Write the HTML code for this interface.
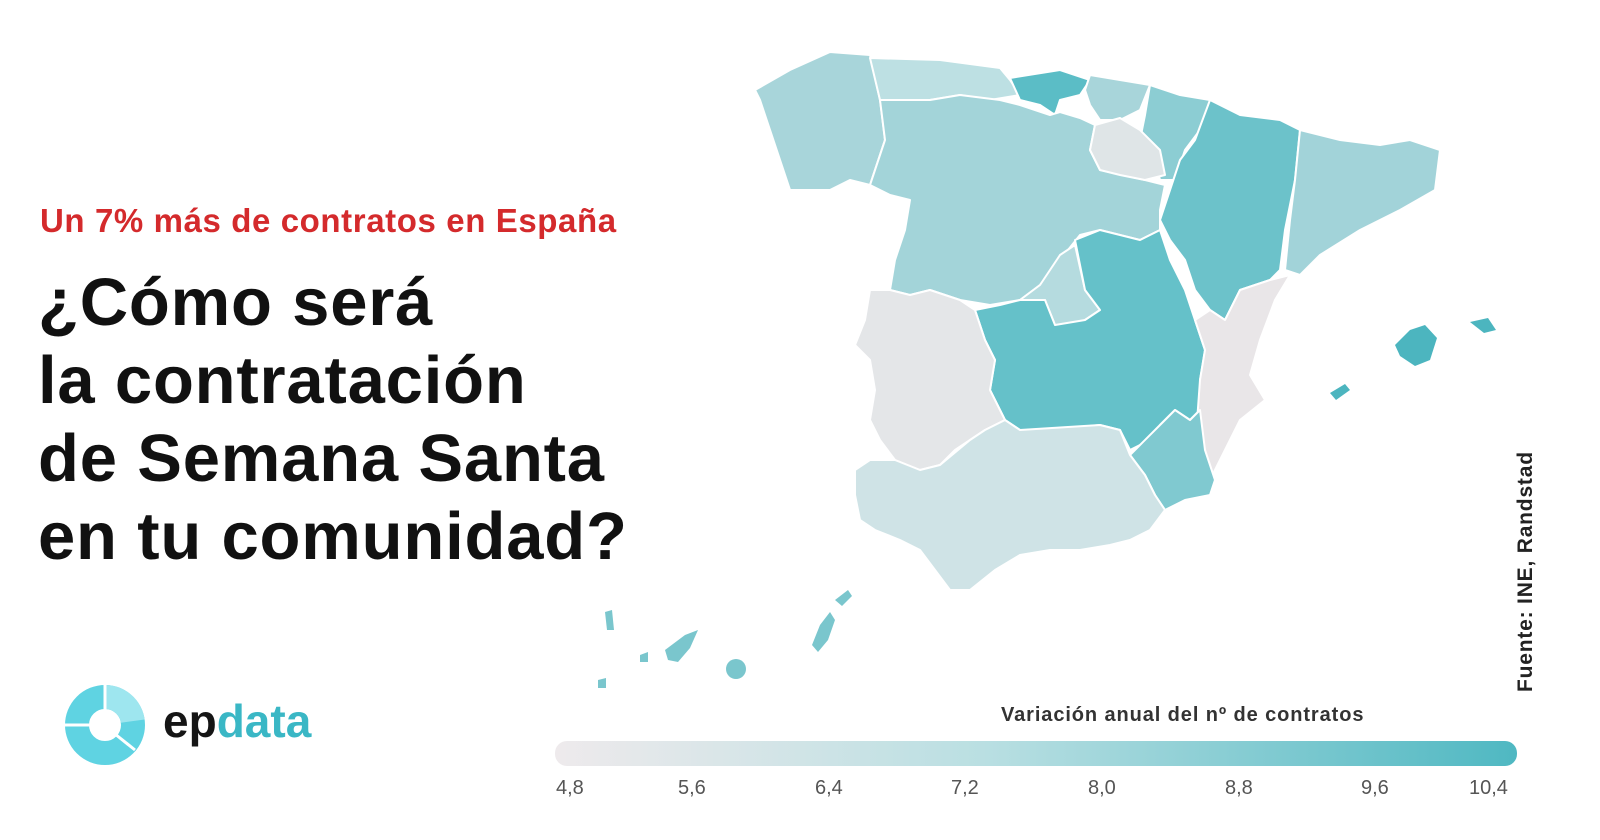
<!DOCTYPE html>
<html><head><meta charset="utf-8"><style>
html,body{margin:0;padding:0;background:#fff;}
body{width:1600px;height:840px;position:relative;overflow:hidden;font-family:"Liberation Sans",sans-serif;}
.sub{position:absolute;left:40px;top:202px;font-size:33px;font-weight:bold;color:#d42a2c;white-space:nowrap;letter-spacing:0.6px;}
.title{position:absolute;left:38px;top:264px;font-size:67px;font-weight:bold;color:#111;line-height:78px;white-space:nowrap;letter-spacing:0.8px;}
.src{position:absolute;left:1514px;top:692px;transform:rotate(-90deg);transform-origin:0 0;font-size:21px;font-weight:bold;color:#222;white-space:nowrap;letter-spacing:0.8px;}
.lt{position:absolute;left:1001px;top:704px;font-size:20px;font-weight:bold;color:#333;white-space:nowrap;letter-spacing:0.9px;}
.bar{position:absolute;left:555px;top:741px;width:962px;height:25px;border-radius:12px;background:linear-gradient(to right,#eeeaec,#b9dfe2 45%,#4fb8c2);}
.tk{position:absolute;top:777px;font-size:20px;color:#555;}
.logo{position:absolute;left:163px;top:694px;font-size:46px;font-weight:bold;letter-spacing:0px;}
</style></head><body>
<div class="sub">Un 7% más de contratos en España</div>
<div class="title">¿Cómo será<br>la contratación<br>de Semana Santa<br>en tu comunidad?</div>
<svg width="1600" height="840" style="position:absolute;left:0;top:0" stroke="#fff" stroke-width="2" stroke-linejoin="round">
<polygon fill="#a8d5da" points="755,90 790,70 830,52 870,55 880,100 885,140 870,185 850,180 830,190 790,190 780,160 770,130 760,100"/>
<polygon fill="#bde0e3" points="870,58 940,60 1000,68 1010,80 1020,95 990,100 960,95 930,100 900,102 880,100"/>
<polygon fill="#5bbdc6" points="1010,78 1060,70 1090,80 1080,95 1060,100 1055,115 1040,105 1020,100"/>
<polygon fill="#a8d5da" points="1090,75 1120,80 1150,85 1140,110 1120,120 1100,120 1090,105 1085,90"/>
<polygon fill="#8ccdd3" points="1150,85 1180,95 1210,100 1200,130 1185,150 1175,180 1160,180 1155,160 1140,140 1145,115"/>
<polygon fill="#a3d4d9" points="880,100 930,100 960,95 1000,100 1020,105 1050,115 1060,112 1080,118 1095,125 1090,150 1100,170 1145,180 1165,185 1160,210 1160,230 1140,240 1100,230 1080,235 1060,260 1040,285 1020,300 990,305 960,300 930,290 910,295 890,290 895,260 905,230 910,200 890,195 870,185 885,140"/>
<polygon fill="#dfe5e7" points="1095,125 1120,118 1140,130 1160,150 1165,175 1145,180 1120,175 1100,170 1090,150"/>
<polygon fill="#6cc2ca" points="1210,100 1240,115 1280,120 1300,130 1295,180 1285,230 1280,270 1270,280 1240,290 1225,320 1210,310 1195,290 1185,260 1170,240 1160,220 1170,190 1180,160 1195,140"/>
<polygon fill="#a2d3d9" points="1300,130 1340,140 1380,145 1410,140 1440,150 1435,190 1400,210 1360,230 1320,255 1300,275 1285,270 1290,220 1295,180"/>
<polygon fill="#b5dbdf" points="1060,255 1075,245 1085,290 1100,310 1085,320 1070,330 1055,325 1045,300 1020,300 1040,285"/>
<polygon fill="#65c1c9" points="1075,240 1100,230 1140,240 1160,230 1170,260 1185,290 1195,320 1205,350 1200,380 1205,405 1190,420 1175,410 1160,425 1150,440 1140,445 1130,450 1120,430 1100,425 1050,430 1020,430 1005,420 990,390 995,360 985,340 975,310 1000,305 1020,300 1045,300 1055,325 1085,320 1100,310 1085,290"/>
<polygon fill="#e9e6e8" points="1225,320 1240,290 1270,280 1290,275 1275,300 1260,340 1250,375 1265,400 1240,420 1225,450 1215,470 1205,490 1195,450 1200,380 1205,350 1195,320 1210,310"/>
<polygon fill="#80c9d0" points="1140,445 1160,425 1175,410 1190,420 1200,410 1205,450 1215,480 1210,495 1185,500 1165,510 1155,495 1145,475 1130,455"/>
<polygon fill="#e4e6e8" points="870,290 890,290 910,295 930,290 960,300 975,310 985,340 995,360 990,390 1005,420 985,430 970,440 955,450 940,465 920,470 895,460 880,440 870,420 875,390 870,360 855,345 865,320"/>
<polygon fill="#cfe3e6" points="870,460 895,460 920,470 940,465 970,440 985,430 1005,420 1020,430 1100,425 1120,430 1130,455 1145,475 1155,495 1165,510 1150,530 1130,540 1110,545 1080,550 1050,550 1020,555 995,570 970,590 950,590 935,570 920,550 900,540 875,530 860,520 855,495 855,470"/>
<g stroke="none" fill="#4cb5bf">
<polygon points="1395,345 1410,330 1425,325 1437,338 1430,360 1415,366 1400,356"/>
<polygon points="1470,322 1488,318 1496,330 1484,333"/>
<polygon points="1330,393 1345,384 1350,390 1336,400"/>
</g>
<g stroke="none" fill="#7ac6cd">
<polygon points="605,612 612,610 614,630 607,630"/>
<polygon points="640,655 648,652 648,662 640,662"/>
<polygon points="665,650 685,635 698,630 690,648 678,662 668,660"/>
<circle cx="736" cy="669" r="10"/>
<polygon points="598,680 606,678 606,688 598,688"/>
<polygon points="812,645 820,625 830,612 835,620 828,640 818,652"/>
<polygon points="835,600 848,590 852,596 842,606"/>
</g>
</svg>
<div class="src">Fuente: INE, Randstad</div>
<div class="lt">Variación anual del nº de contratos</div>
<div class="bar"></div>
<div class="tk" style="left:556px">4,8</div>
<div class="tk" style="left:678px">5,6</div>
<div class="tk" style="left:815px">6,4</div>
<div class="tk" style="left:951px">7,2</div>
<div class="tk" style="left:1088px">8,0</div>
<div class="tk" style="left:1225px">8,8</div>
<div class="tk" style="left:1361px">9,6</div>
<div class="tk" style="left:1469px">10,4</div>
<svg width="90" height="90" style="position:absolute;left:60px;top:682px">
<circle cx="45" cy="43" r="28" fill="none" stroke="#5fd3e2" stroke-width="24"/>
<circle cx="45" cy="43" r="28" fill="none" stroke="#9ee6ef" stroke-width="24" stroke-dasharray="40 200" transform="rotate(-90 45 43)"/>
<line x1="45" y1="3" x2="45" y2="30" stroke="#fff" stroke-width="3"/>
<line x1="5" y1="43" x2="32" y2="43" stroke="#fff" stroke-width="3"/>
<line x1="55" y1="52" x2="75" y2="68" stroke="#fff" stroke-width="3"/>
</svg>
<div class="logo"><span style="color:#151515">ep</span><span style="color:#3ab7c5">data</span></div>
</body></html>
